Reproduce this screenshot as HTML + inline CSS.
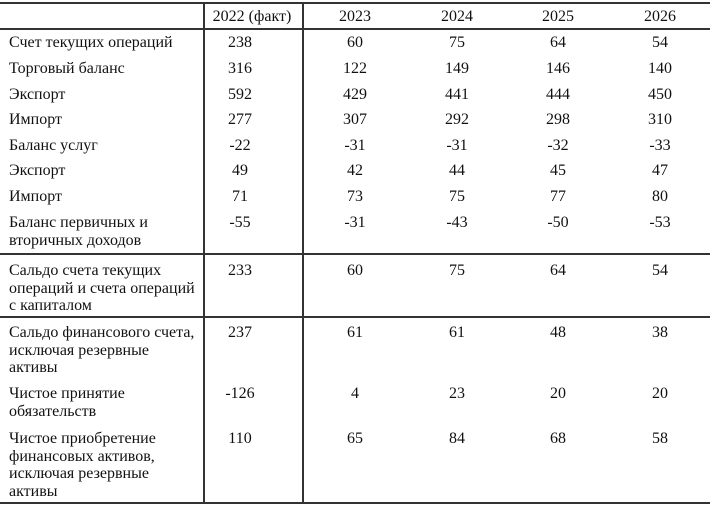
<!DOCTYPE html>
<html><head><meta charset="utf-8"><style>
body{margin:0;background:#fff;width:710px;height:507px;position:relative;overflow:hidden;font-family:"Liberation Serif",serif;font-size:16px;color:#111}
.l{position:absolute;left:9px;line-height:17.6px;white-space:nowrap}
.v{position:absolute;width:100px;text-align:center;line-height:18px}
.h{position:absolute;background:#333}
</style></head><body>
<div class="h" style="left:0;top:2px;width:710px;height:2px"></div>
<div class="h" style="left:0;top:28px;width:710px;height:1.5px"></div>
<div class="h" style="left:0;top:253px;width:710px;height:1.5px"></div>
<div class="h" style="left:0;top:316px;width:710px;height:1.5px"></div>
<div class="h" style="left:0;top:502px;width:710px;height:2px"></div>
<div class="h" style="left:203px;top:3px;width:1.5px;height:500px"></div>
<div class="h" style="left:302px;top:3px;width:1.5px;height:500px"></div>
<div id="c"></div>
<script>
var rows=[
[8,["2022 (факт)","2023","2024","2025","2026"],[""]],
[34,["238","60","75","64","54"],["Счет текущих операций"]],
[60,["316","122","149","146","140"],["Торговый баланс"]],
[86,["592","429","441","444","450"],["Экспорт"]],
[111,["277","307","292","298","310"],["Импорт"]],
[137,["-22","-31","-31","-32","-33"],["Баланс услуг"]],
[162,["49","42","44","45","47"],["Экспорт"]],
[188,["71","73","75","77","80"],["Импорт"]],
[214,["-55","-31","-43","-50","-53"],["Баланс первичных и","вторичных доходов"]],
[262,["233","60","75","64","54"],["Сальдо счета текущих","операций и счета операций","с капиталом"]],
[324,["237","61","61","48","38"],["Сальдо финансового счета,","исключая резервные","активы"]],
[385,["-126","4","23","20","20"],["Чистое принятие","обязательств"]],
[430,["110","65","84","68","58"],["Чистое приобретение","финансовых активов,","исключая резервные","активы"]]];
var cx=[252,355,457,558,660],h="";
rows.forEach(function(r,k){
h+='<div class="l" style="top:'+r[0]+'px">'+r[2].join("<br>")+'</div>';
r[1].forEach(function(t,i){var c=(i==0&&k>0)?240:cx[i];h+='<div class="v" style="top:'+r[0]+'px;left:'+(c-50)+'px">'+t+'</div>';});
});
document.getElementById("c").innerHTML=h;
</script>
</body></html>
